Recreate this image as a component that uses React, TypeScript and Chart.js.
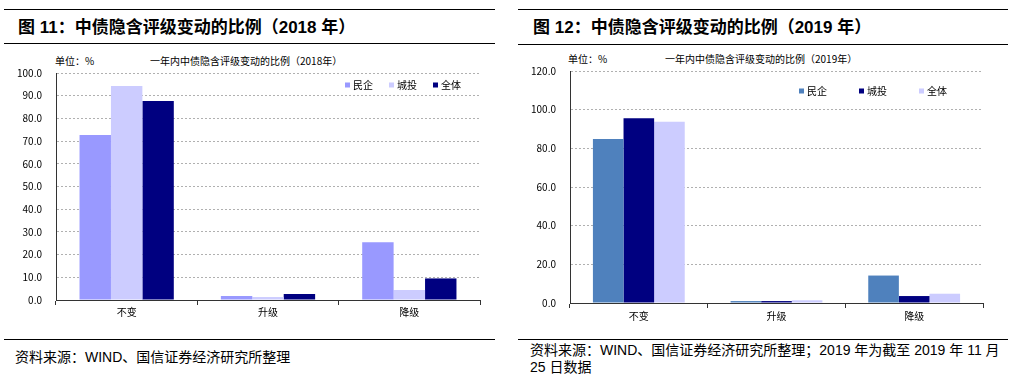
import React, { useEffect, useRef } from "react";
import { Chart, registerables } from "chart.js";

Chart.register(...registerables);

// ---------- data ----------
const categories = ["不变", "升级", "降级"];
const seriesNames2018 = ["民企", "城投", "全体"];
const minqi2018 = [72.7, 1.8, 25.4];
const chengtou2018 = [94.3, 1.3, 4.4];
const quanti2018 = [87.7, 2.6, 9.5];

const seriesNames2019 = ["民企", "城投", "全体"];
const minqi2019 = [84.8, 1.0, 14.2];
const chengtou2019 = [95.5, 1.0, 3.6];
const quanti2019 = [93.8, 1.4, 4.8];

const yAxis2018 = { min: 0, max: 100, step: 10 };
const yAxis2019 = { min: 0, max: 120, step: 20 };

const CJK = '"Noto Sans CJK SC", sans-serif';
const MIXED = '"Liberation Sans", "Noto Sans CJK SC", sans-serif';

const legendPlugin = {
  id: "customLegend",
  afterDraw(chart: any, _args: any, opts: any) {
    const { ctx } = chart;
    ctx.save();
    ctx.font = opts.font;
    ctx.textBaseline = "middle";
    ctx.textAlign = "left";
    chart.data.datasets.forEach((ds: any, i: number) => {
      const x = opts.x + i * opts.spacing;
      ctx.fillStyle = ds.backgroundColor;
      ctx.fillRect(x, opts.y - opts.box / 2, opts.box, opts.box);
      ctx.fillStyle = "#000";
      ctx.fillText(ds.label, x + opts.box + opts.gap, opts.y);
    });
    ctx.restore();
  },
};

type ChartProps = {
  left: number;
  top: number;
  width: number;
  height: number;
  names: string[];
  values: number[][];
  colors: string[];
  yAxis: { min: number; max: number; step: number };
  yWidth: number;
  xPad: number;
  padding: { top: number; right: number; bottom: number; left: number };
  legend: { x: number; y: number; spacing: number };
};

function BarChart(p: ChartProps) {
  const ref = useRef<HTMLCanvasElement | null>(null);
  useEffect(() => {
    if (!ref.current) return;
    const font = { family: CJK, size: 10 };
    const chart = new Chart(ref.current, {
      type: "bar",
      data: {
        labels: categories,
        datasets: p.names.map((n, i) => ({
          label: n,
          data: p.values[i],
          backgroundColor: p.colors[i],
          borderWidth: 0,
          categoryPercentage: 0.667,
          barPercentage: 1.0,
        })),
      },
      plugins: [legendPlugin as any],
      options: {
        responsive: false,
        animation: false,
        layout: { padding: p.padding },
        plugins: {
          legend: { display: false },
          tooltip: { enabled: false },
          title: { display: false },
          customLegend: {
            x: p.legend.x,
            y: p.legend.y,
            spacing: p.legend.spacing,
            box: 5,
            gap: 3,
            font: `10px ${CJK}`,
          },
        } as any,
        scales: {
          x: {
            afterFit: (s: any) => {
              s.height = 30;
            },
            grid: {
              display: true,
              drawOnChartArea: false,
              drawTicks: true,
              tickLength: 5,
              offset: true,
              color: "#333",
              tickColor: "#333",
            },
            border: { display: true, color: "#333", width: 1 },
            ticks: { font, color: "#000", padding: p.xPad },
          },
          y: {
            min: p.yAxis.min,
            max: p.yAxis.max,
            afterFit: (s: any) => {
              s.width = p.yWidth;
            },
            grid: {
              drawTicks: false,
              color: (c: any) =>
                c.tick && c.tick.value === 0 ? "rgba(0,0,0,0)" : "#b0b0b0",
              lineWidth: 1,
            },
            border: { display: true, color: "#333", width: 1, dash: [2, 2] },
            ticks: {
              stepSize: p.yAxis.step,
              font,
              color: "#000",
              padding: 14,
              callback: (v: any) => Number(v).toFixed(1),
            },
          },
        },
      } as any,
    });
    return () => chart.destroy();
  }, []);
  return (
    <canvas
      ref={ref}
      width={p.width}
      height={p.height}
      style={{
        position: "absolute",
        left: p.left,
        top: p.top,
        width: p.width,
        height: p.height,
      }}
    />
  );
}

const abs = (l: number, t: number, extra: any = {}) => ({
  position: "absolute" as const,
  left: l,
  top: t,
  whiteSpace: "nowrap" as const,
  ...extra,
});

function Line({ l, t, w }: { l: number; t: number; w: number }) {
  return <div style={abs(l, t, { width: w, height: 1, background: "#000" })} />;
}

export default function App() {
  const titleStyle = {
    fontFamily: MIXED,
    fontWeight: 700,
    fontSize: 17,
    lineHeight: "20px",
    color: "#000",
  };
  const smallStyle = {
    fontFamily: CJK,
    fontSize: 10,
    lineHeight: "12px",
    color: "#000",
  };
  const srcStyle = {
    fontFamily: MIXED,
    fontSize: 14,
    lineHeight: "17px",
    color: "#000",
  };
  return (
    <div
      style={{
        position: "absolute",
        left: 0,
        top: 0,
        width: 1015,
        height: 379,
        background: "#fff",
        overflow: "hidden",
      }}
    >
      {/* left panel */}
      <Line l={4} t={9} w={491} />
      <div style={abs(18, 18, titleStyle)}>图 11：中债隐含评级变动的比例（2018 年）</div>
      <Line l={4} t={43} w={491} />
      <div style={abs(55, 55, smallStyle)}>单位：%</div>
      <div style={abs(150, 55, smallStyle)}>一年内中债隐含评级变动的比例（2018年）</div>
      <BarChart
        left={0}
        top={50}
        width={500}
        height={280}
        names={seriesNames2018}
        values={[minqi2018, chengtou2018, quanti2018]}
        colors={["#9999FF", "#CCCCFF", "#000080"]}
        yAxis={yAxis2018}
        yWidth={56}
        xPad={1}
        padding={{ top: 23, right: 20, bottom: 0, left: 0 }}
        legend={{ x: 345, y: 35, spacing: 44 }}
      />
      <Line l={4} t={339} w={491} />
      <div style={abs(15, 349, srcStyle)}>资料来源：WIND、国信证券经济研究所整理</div>

      {/* right panel */}
      <Line l={518} t={9} w={490} />
      <div style={abs(533, 18, titleStyle)}>图 12：中债隐含评级变动的比例（2019 年）</div>
      <Line l={518} t={44} w={490} />
      <div style={abs(568, 53, smallStyle)}>单位：%</div>
      <div style={abs(665, 53, smallStyle)}>一年内中债隐含评级变动的比例（2019年）</div>
      <BarChart
        left={510}
        top={50}
        width={505}
        height={283}
        names={seriesNames2019}
        values={[minqi2019, chengtou2019, quanti2019]}
        colors={["#4F81BD", "#000080", "#CCCCFF"]}
        yAxis={yAxis2019}
        yWidth={60}
        xPad={2}
        padding={{ top: 21, right: 32, bottom: 0, left: 0 }}
        legend={{ x: 289, y: 41, spacing: 60 }}
      />
      <Line l={518} t={339} w={490} />
      <div style={abs(530, 342, srcStyle)}>
        资料来源：WIND、国信证券经济研究所整理；2019 年为截至 2019 年 11 月
        <br />
        25 日数据
      </div>
    </div>
  );
}
